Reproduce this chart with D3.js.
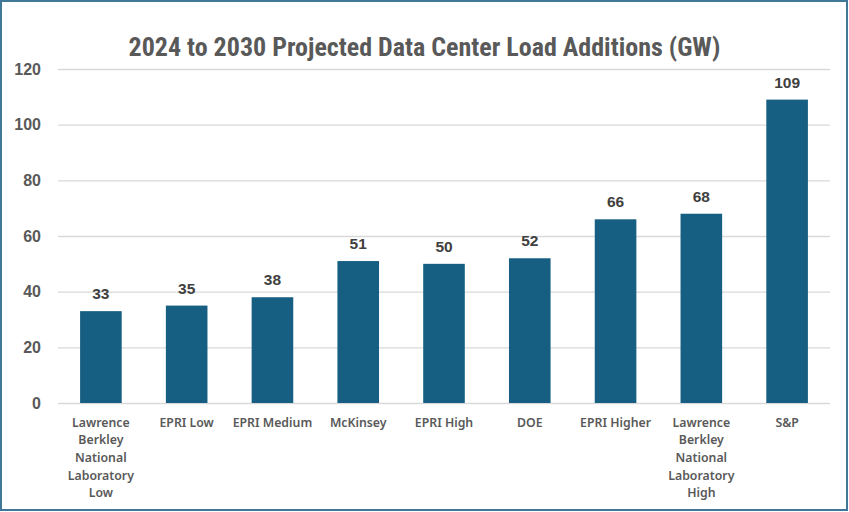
<!DOCTYPE html>
<html>
<head>
<meta charset="utf-8">
<script src="https://cdn.jsdelivr.net/npm/d3@7"></script>
<style>
  body { margin: 0; background: #fff; }
  svg { display: block; }
</style>
</head>
<body>
<svg id="chart" width="849" height="512"></svg>
<script>
"use strict";

// chart data
let categories = [
  "Lawrence Berkley National Laboratory Low",
  "EPRI Low",
  "EPRI Medium",
  "McKinsey",
  "EPRI High",
  "DOE",
  "EPRI Higher",
  "Lawrence Berkley National Laboratory High",
  "S&P"
]
let loadAdditions = [33, 35, 38, 51, 50, 52, 66, 68, 109]
let yTicks = [0, 20, 40, 60, 80, 100, 120]
let titleText = "2024 to 2030 Projected Data Center Load Additions (GW)"

const W = 849, H = 512
const margin = {top: 69, right: 19, bottom: 109, left: 58}

const svg = d3.select("#chart")

// outer frame
svg.append("rect")
    .attr("x", 1).attr("y", 1)
    .attr("width", W - 3).attr("height", H - 3)
    .attr("fill", "#fff")
    .attr("stroke", "#3f7797")
    .attr("stroke-width", 2)

svg.append("text")
    .attr("x", W / 2)
    .attr("y", 56)
    .attr("text-anchor", "middle")
    .attr("font-family", "'Liberation Sans Narrow', 'Roboto', sans-serif")
    .attr("font-stretch", "condensed")
    .attr("font-weight", "bold")
    .attr("font-size", 26)
    .attr("fill", "#595959")
    .text(titleText)

const x = d3.scaleBand()
    .domain(categories)
    .range([margin.left, W - margin.right])
    .paddingInner(0.515)
    .paddingOuter(0.2575)

const y = d3.scaleLinear()
    .domain([0, 120])
    .range([H - margin.bottom, margin.top])

// gridlines + y labels
const yAxis = svg.append("g")
    .attr("transform", "translate(" + margin.left + ",0)")
    .call(d3.axisLeft(y).tickValues(yTicks).tickSize(-(W - margin.left - margin.right)).tickPadding(17))
yAxis.select(".domain").remove()
yAxis.selectAll(".tick line")
    .attr("stroke", "#d9d9d9")
    .attr("stroke-width", 1.3)
yAxis.selectAll(".tick text")
    .attr("font-family", "'Liberation Sans', Arial, sans-serif")
    .attr("font-weight", "bold")
    .attr("font-size", 16)
    .attr("fill", "#595959")

svg.append("g").selectAll("rect")
  .data(loadAdditions)
  .join("rect")
    .attr("x", (d, i) => x(categories[i]))
    .attr("y", d => y(d))
    .attr("width", x.bandwidth())
    .attr("height", d => y(0) - y(d))
    .attr("fill", "#165f82")

// value labels
svg.append("g").selectAll("text")
  .data(loadAdditions)
  .join("text")
    .attr("x", (d, i) => x(categories[i]) + x.bandwidth() / 2)
    .attr("y", d => y(d) - 12)
    .attr("text-anchor", "middle")
    .attr("font-family", "'Liberation Sans', Arial, sans-serif")
    .attr("font-weight", "bold")
    .attr("font-size", 15.5)
    .attr("fill", "#404040")
    .text(d => d)

// category labels, wrapped like the original
function wrapLabel(label){
  if(label.length <= 12) return [label]
  return label.split(" ")
}

const xLabels = svg.append("g").selectAll("text")
  .data(categories)
  .join("text")
    .attr("x", d => x(d) + x.bandwidth() / 2)
    .attr("y", 426.5)
    .attr("text-anchor", "middle")
    .attr("font-family", "'Noto Sans', 'Open Sans', sans-serif")
    .attr("font-weight", 600)
    .attr("font-size", 12.3)
    .attr("fill", "#595959")
xLabels.each(function(d){
  let t = d3.select(this)
  wrapLabel(d).forEach((line, k) => {
    t.append("tspan")
      .attr("x", x(d) + x.bandwidth() / 2)
      .attr("dy", k === 0 ? 0 : 17.7)
      .text(line)
  })
})
</script>
</body>
</html>
